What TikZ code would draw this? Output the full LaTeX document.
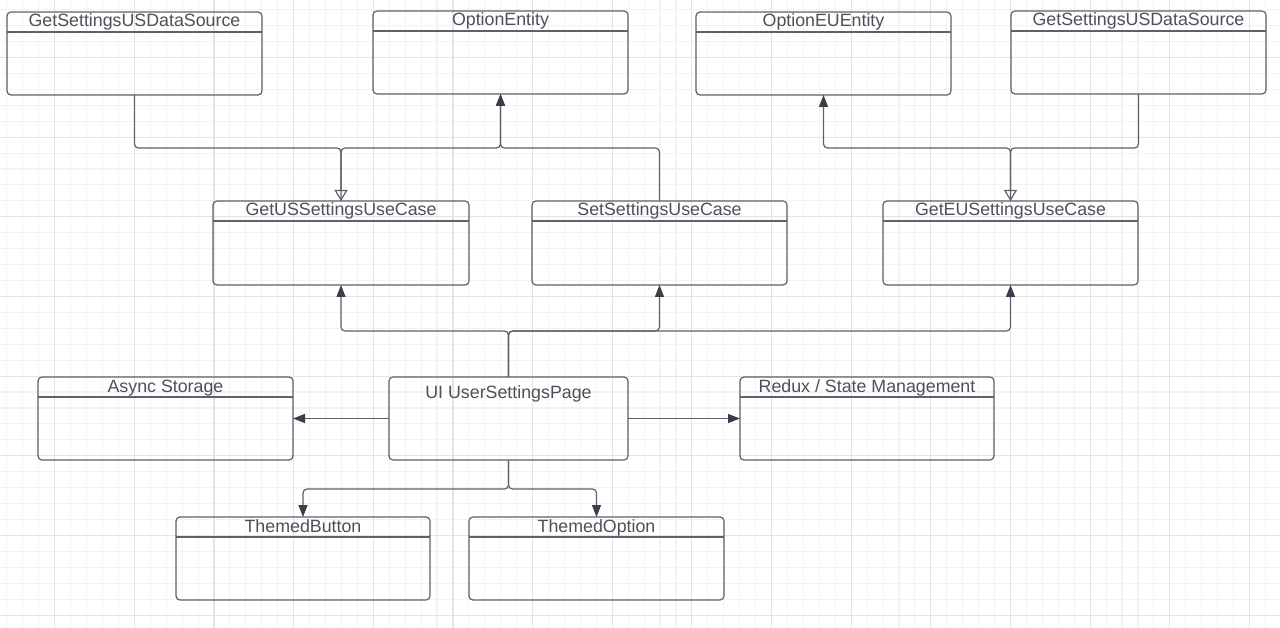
\documentclass[tikz,border=0pt]{standalone}
\usepackage{fontspec}
\setmainfont{Liberation Sans}
\usetikzlibrary{arrows.meta,calc}
\definecolor{gridminor}{HTML}{F3F3F3}
\definecolor{gridmajor}{HTML}{E4E4E4}
\definecolor{boxline}{HTML}{5C616B}
\definecolor{txt}{HTML}{4D5058}
\definecolor{tipcol}{HTML}{393E47}
\tikzset{
  classbox/.style={draw=boxline, line width=1.2pt, rounded corners=4pt, anchor=north west, inner sep=0pt, outer sep=0pt},
  titletext/.style={text=txt, font=\fontsize{17.8}{20}\selectfont, anchor=base, inner sep=0pt},
  divider/.style={draw=boxline, line width=1.2pt},
  conn/.style={draw=boxline, line width=1.2pt, rounded corners=4pt},
  solidtip/.style={-{Triangle[length=12pt,width=9pt,color=tipcol]}},
  opentip/.style={-{Triangle[open,length=11pt,width=13pt,fill=white]}},
  gminor/.style={draw=gridminor, line width=1.1pt},
  gmajor/.style={draw=gridmajor, line width=1.1pt},
}
\newcommand\umlclass[6]{% name, x, y, w, h, title
  \node[classbox, minimum width=#4pt, minimum height=#5pt] (#1) at (#2,#3) {};
  \node[titletext] (#1-t) at ($(#1.north)+(0,15)$) {#6};
  \draw[divider] ($(#1.north west)+(0,20)$) -- ($(#1.north east)+(0,20)$);
}
\begin{document}
\begin{tikzpicture}[x=1pt,y=-1pt]
  \useasboundingbox (0,0) rectangle (1280,628);
  \fill[white] (0,0) rectangle (1280,628);
  \begin{scope}
    \clip (0,0) rectangle (1280,628);
    \foreach \k in {-4,...,80} \draw[gminor] ({54.7+15.93*\k},0) -- ({54.7+15.93*\k},628);
    \foreach \k in {-4,...,40} \draw[gminor] (0,{57.5+15.93*\k}) -- (1280,{57.5+15.93*\k});
    \foreach \k in {-1,...,16} \draw[gmajor] ({54.7+79.65*\k},0) -- ({54.7+79.65*\k},628);
    \foreach \k in {-1,...,8} \draw[gmajor] (0,{57.5+79.65*\k}) -- (1280,{57.5+79.65*\k});
  \end{scope}

  % top row
  \umlclass{ds1}{7}{12}{255}{83}{GetSettingsUSDataSource}
  \umlclass{opt}{373}{11}{255}{83}{OptionEntity}
  \umlclass{opteu}{696}{12}{255}{83}{OptionEUEntity}
  \umlclass{ds2}{1011}{11}{255}{83}{GetSettingsUSDataSource}
  % use case row
  \umlclass{gus}{213}{201}{256}{84}{GetUSSettingsUseCase}
  \umlclass{set}{532}{201}{255}{84}{SetSettingsUseCase}
  \umlclass{geu}{883}{201}{255}{84}{GetEUSettingsUseCase}
  % middle row
  \umlclass{async}{38}{377}{255}{83}{Async Storage}
  \node[classbox, minimum width=239pt, minimum height=83pt] (ui) at (389,377) {};
  \node[titletext] (ui-t) at ($(ui.north)+(0,21)$) {UI UserSettingsPage};
  \umlclass{redux}{740}{377}{254}{83}{Redux / State Management}
  % bottom row
  \umlclass{tbtn}{176}{517}{254}{83}{ThemedButton}
  \umlclass{topt}{469}{517}{255}{83}{ThemedOption}

  \coordinate (jt) at (0,148);
  \coordinate (jm) at (0,331);
  \coordinate (jb) at (0,489);

  \draw[conn, opentip] (ds1.south) -- (ds1.south |- jt) -| (gus.north);
  \draw[conn, solidtip] (gus.north) -- (gus.north |- jt) -| (opt.south);
  \draw[conn, solidtip] (set.north) -- (set.north |- jt) -| (opt.south);
  \draw[conn, opentip] (ds2.south) -- (ds2.south |- jt) -| (geu.north);
  \draw[conn, solidtip] (geu.north) -- (geu.north |- jt) -| (opteu.south);

  \draw[conn, solidtip] (ui.north) -- (ui.north |- jm) -| (gus.south);
  \draw[conn, solidtip] (ui.north) -- (ui.north |- jm) -| (set.south);
  \draw[conn, solidtip] (ui.north) -- (ui.north |- jm) -| (geu.south);

  \draw[conn, solidtip] (ui.west) -- (async.east);
  \draw[conn, solidtip] (ui.east) -- (redux.west);

  \draw[conn, solidtip] (ui.south) -- (ui.south |- jb) -| (tbtn.north);
  \draw[conn, solidtip] (ui.south) -- (ui.south |- jb) -| (topt.north);
\end{tikzpicture}
\end{document}
